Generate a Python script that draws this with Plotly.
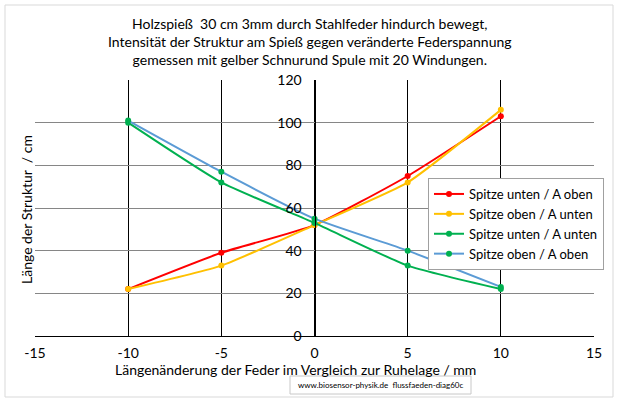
import plotly.graph_objects as go

x_vals = [-10, -5, 0, 5, 10]
red_vals = [22, 39, 52, 75, 103]
yellow_vals = [22, 33, 52, 72, 106]
green_vals = [100, 72, 53, 33, 22]
blue_vals = [101, 77, 55, 40, 23]
names = ["Spitze unten / A oben", "Spitze oben / A unten",
         "Spitze unten / A unten", "Spitze oben / A oben"]
x_ticks = [-15, -10, -5, 0, 5, 10, 15]
x_tick_labels = ["-15", "-10", "-5", "0", "5", "10", "15"]

FONT = "Lato"
W, H = 622, 405
L, R, T, B = 35, 28, 80, 69
pw, ph = W - L - R, H - T - B

def px(p):
    return (p - L) / pw

def py(q):
    return (H - B - q) / ph

fig = go.Figure()
series = [
    (red_vals, "#FF0000", "#FF0000"),
    (yellow_vals, "#FFC000", "#FFC000"),
    (green_vals, "#00B050", "#00B050"),
    (blue_vals, "#5B9BD5", "#00B050"),
]
for name, (vals, lc, mc) in zip(names, series):
    fig.add_trace(go.Scatter(
        x=x_vals, y=vals, name=name, mode="lines+markers",
        line=dict(color=lc, width=2, shape="spline", smoothing=0.5),
        marker=dict(color=mc, size=6),
    ))

fig.update_layout(
    width=W, height=H, margin=dict(l=L, r=R, t=T, b=B),
    paper_bgcolor="white", plot_bgcolor="white",
    font=dict(family=FONT, size=13, color="#000000"),
    showlegend=True,
    legend=dict(x=px(428), y=py(178), xanchor="left", yanchor="top",
                bgcolor="white", bordercolor="#A0A0A0", borderwidth=1,
                font=dict(family=FONT, size=13), itemwidth=30,
                tracegroupgap=0),
    xaxis=dict(range=[-15, 15], tickvals=x_ticks, ticktext=x_tick_labels,
               showgrid=True,
               gridcolor="#000000", gridwidth=1, zeroline=False,
               showline=True, linecolor="#000000", linewidth=1,
               ticks="", ticklabelstandoff=4,
               tickfont=dict(family=FONT, size=14)),
    yaxis=dict(range=[0, 120], dtick=20, showgrid=True,
               gridcolor="#868686", gridwidth=1, zeroline=False,
               anchor="free", position=0.5, side="left",
               showline=True, linecolor="#000000", linewidth=1,
               ticks="", ticklabelstandoff=10,
               tickfont=dict(family=FONT, size=14)),
)

fig.add_annotation(
    text="Holzspieß  30 cm 3mm durch Stahlfeder hindurch bewegt,<br>"
         "Intensität der Struktur am Spieß gegen veränderte Federspannung<br>"
         "gemessen mit gelber Schnurund Spule mit 20 Windungen.",
    xref="paper", yref="paper", x=px(310), y=py(41),
    xanchor="center", yanchor="middle", showarrow=False,
    font=dict(family=FONT, size=14), align="center",
)
fig.add_annotation(
    text="Längenänderung der Feder im Vergleich zur Ruhelage / mm",
    xref="paper", yref="paper", x=px(295), y=py(369),
    xanchor="center", yanchor="middle", showarrow=False,
    font=dict(family=FONT, size=14),
)
fig.add_annotation(
    text="Länge der Struktur  / cm",
    xref="paper", yref="paper", x=px(26), y=py(210),
    xanchor="center", yanchor="middle", showarrow=False, textangle=-90,
    font=dict(family=FONT, size=14),
)
fig.add_annotation(
    text="www.biosensor-physik.de  flussfaeden-diag60c",
    xref="paper", yref="paper", x=px(381), y=py(385),
    xanchor="center", yanchor="middle", showarrow=False,
    font=dict(family=FONT, size=8),
)
fig.add_shape(type="rect", xref="paper", yref="paper",
              x0=px(290), x1=px(471), y0=py(394), y1=py(376),
              line=dict(color="#C8C8C8", width=1), layer="below")
fig.add_shape(type="rect", xref="paper", yref="paper",
              x0=px(5), x1=px(613), y0=py(397), y1=py(5),
              line=dict(color="#D9D9D9", width=1), layer="below")

fig.write_html("out.html")
